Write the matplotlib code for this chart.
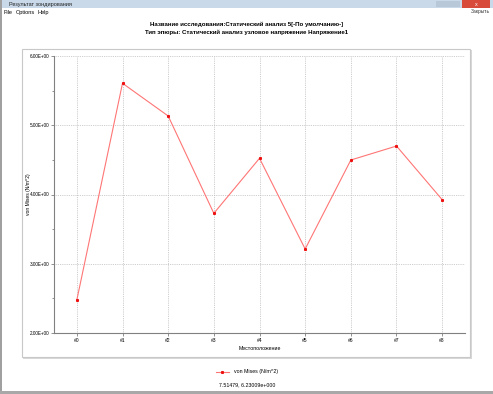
import matplotlib
matplotlib.use("Agg")
import matplotlib.pyplot as plt
from matplotlib.patches import Rectangle

plt.rcParams["font.family"] = ["Liberation Sans", "DejaVu Sans"]

# data
locations = ["#0", "#1", "#2", "#3", "#4", "#5", "#6", "#7", "#8"]
von_mises = [2.477, 5.606, 5.134, 3.728, 4.523, 3.213, 4.498, 4.700, 3.925]
y_ticks = [2.0, 3.0, 4.0, 5.0, 6.0]
y_tick_labels = ["2.00E+00", "3.00E+00", "4.00E+00", "5.00E+00", "6.00E+00"]

title_1 = "Название исследования:Статический анализ 5[-По умолчанию-]"
title_2 = "Тип эпюры: Статический анализ узловое напряжение Напряжение1"
cursor_text = "7.51479, 6.23009e+000"

W, H = 493, 394
fig = plt.figure(figsize=(W / 100, H / 100), dpi=100)
fig.patch.set_facecolor("white")


def px_rect(x, y, w, h, **kw):
    # rectangle in pixel coords (origin top-left), drawn behind the axes
    fig.patches.append(Rectangle((x / W, 1 - (y + h) / H), w / W, h / H,
                                 transform=fig.transFigure, figure=fig,
                                 zorder=-10, **kw))


def px_text(x, y, s, **kw):
    fig.text(x / W, 1 - y / H, s, **kw)


# window chrome
px_rect(0, 0, W, 8, facecolor="#c9d9ea", edgecolor="none")
px_rect(462, 0, 28, 8, facecolor="#d84a3a", edgecolor="none")
px_rect(436, 1, 24, 6, facecolor="#b8c8d8", edgecolor="none")
px_rect(0, 0, 2, H, facecolor="#a0a0a0", edgecolor="none")
px_rect(0, 391, W, 3, facecolor="#a8a8a8", edgecolor="none")
px_rect(470, 50, 2, 308, facecolor="#d8d8d8", edgecolor="none")
px_rect(23, 357, 449, 2, facecolor="#d8d8d8", edgecolor="none")
px_rect(22, 49, 448, 308, facecolor="white", edgecolor="#c8c8c8", linewidth=0.8)

px_text(9, 4.5, "Результат зондирования", fontsize=4, va="center", color="#222222")
px_text(4, 12.5, "File", fontsize=4, va="center")
px_text(16, 12.5, "Options", fontsize=4, va="center")
px_text(37, 12.5, "Help", fontsize=4, va="center")
px_text(476, 4.5, "x", fontsize=4, va="center", ha="center", color="white")
px_text(480, 11.5, "Закрыть", fontsize=3.5, va="center", ha="center", color="#333333")

px_text(247, 24.5, title_1, fontsize=4.4, ha="center", va="center", fontweight="bold")
px_text(247, 32, title_2, fontsize=4.4, ha="center", va="center", fontweight="bold")

ax = fig.add_axes([54 / W, 1 - 333 / H, (465 - 54) / W, (333 - 56) / H])
ax.set_facecolor("none")
x = list(range(len(locations)))
ax.plot(x, von_mises, color="#ff7575", linewidth=0.8, marker="s", markersize=1.2,
        markerfacecolor="#ee1111", markeredgecolor="#ee1111",
        label="von Mises (N/m^2)")

ax.set_xlim(-0.5, len(locations) - 0.5)
ax.set_ylim(2.0, 6.0)
ax.set_xticks(x)
ax.set_xticklabels(locations, fontsize=3.6)
ax.set_yticks(y_ticks)
ax.set_yticklabels(y_tick_labels, fontsize=3.3)
ax.set_yticks([2.5, 3.5, 4.5, 5.5], minor=True)
ax.tick_params(axis="both", which="major", length=2, width=0.6, color="#808080", pad=1.5)
ax.tick_params(axis="y", which="minor", length=1.5, width=0.6, color="#808080")
ax.set_xlabel("Местоположение", fontsize=3.8, labelpad=2)
ax.set_ylabel("von Mises (N/m^2)", fontsize=3.6)
ax.yaxis.set_label_coords((31 - 54) / (465 - 54), 0.5)

ax.grid(True, which="major", color="#bdbdbd", linestyle=(0, (1, 1.2)), linewidth=0.6)
for side in ["top", "right"]:
    ax.spines[side].set_visible(False)
for side in ["left", "bottom"]:
    ax.spines[side].set_color("#808080")
    ax.spines[side].set_linewidth(0.8)

fig.legend(loc="center", bbox_to_anchor=(247 / W, 1 - 372 / H), fontsize=3.8,
           frameon=False, handlelength=2.5, handletextpad=1.0)
px_text(247, 385, cursor_text, fontsize=3.8, ha="center", va="center")

fig.savefig("out.png", dpi=100)
